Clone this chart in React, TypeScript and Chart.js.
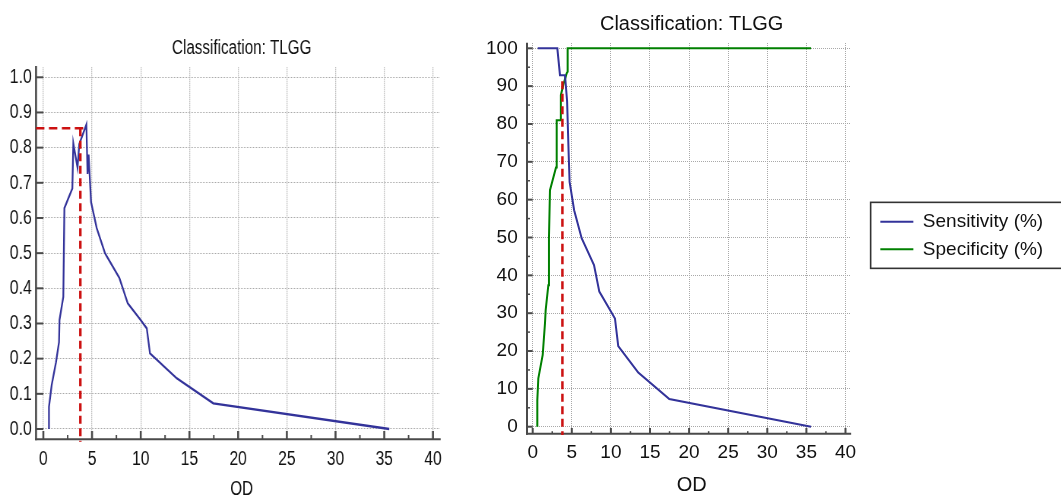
import React, { useEffect, useRef } from "react";
import { Chart, registerables } from "chart.js";

Chart.register(...registerables);

// ---------------- data ----------------
const chartTitle = "Classification: TLGG";
const axisTitle = "OD";
const legendSens = "Sensitivity (%)";
const legendSpec = "Specificity (%)";

const xTickValues = [0, 5, 10, 15, 20, 25, 30, 35, 40];
const youdenTickValues = [0, 0.1, 0.2, 0.3, 0.4, 0.5, 0.6, 0.7, 0.8, 0.9, 1.0];
const percentTickValues = [0, 10, 20, 30, 40, 50, 60, 70, 80, 90, 100];

// Youden index (left panel)
const youdenOD = [0.58, 0.58, 0.86, 1.3, 1.61, 1.66, 2.05, 2.16, 2.98, 3.08, 3.51, 3.69, 4.42, 4.54, 4.65, 4.9, 5.48, 6.33, 7.8, 8.67, 9.93, 10.62, 10.95, 13.7, 17.45, 35.52];
const youdenJ = [0, 0.063, 0.125, 0.19, 0.247, 0.31, 0.376, 0.628, 0.684, 0.812, 0.743, 0.81, 0.866, 0.725, 0.78, 0.645, 0.571, 0.5, 0.43, 0.357, 0.312, 0.286, 0.215, 0.144, 0.073, 0];

// Sensitivity (right panel)
const sensOD = [0.64, 3.15, 3.49, 4.13, 4.4, 4.6, 4.72, 5.3, 6.26, 7.84, 8.52, 9.8, 10.52, 10.94, 13.5, 17.47, 35.6];
const sensPct = [100, 100, 92.9, 92.9, 86, 72, 64.7, 57.2, 49.8, 42.7, 35.7, 31.2, 28.6, 21.3, 14.3, 7.3, 0];

// Specificity (right panel)
const specOD = [0.59, 0.59, 0.72, 1.28, 1.57, 1.66, 2.0, 2.08, 2.21, 2.98, 3.07, 3.55, 3.6, 3.91, 4.35, 4.47, 4.47, 35.6];
const specPct = [0, 7, 12.8, 19, 27.3, 30.8, 37.4, 49.8, 62.5, 68.5, 81, 81, 87.6, 90.3, 93.4, 93.8, 100, 100];

// criterion (red dashed markers)
const criterionOD = 3.8;
const youdenAtCriterion = 0.855;
const youdenLineEndOD = 4.19;
const youdenLineStartOD = -0.75;
const youdenLineBottom = -0.036;
const pctLineTop = 91.3;
const pctLineBottom = -2.2;

// ---------------- styles ----------------
const FONT = "'Liberation Sans', Arial, Helvetica, sans-serif";
const TEXT = "#111111";
const BLUE = "#33339a";
const GREEN = "#008000";
const RED = "#cc1111";
const AXIS = "#4a4a4a";
const GRID = "#a9a9a9";
const SQUEEZE = 0.76;

type AxisCfg = {
  gapX: number; gapY: number; vAxisW: number; hAxisW: number; topExtra: number; rightExtra: number;
  majorHW: number; majorVW: number; minorHW: number; minorVW: number; minorXLen: number; minorYLen: number;
  xTicks: number[]; yTicks: number[];
};

function midpoints(a: number[]) {
  const r: number[] = [];
  for (let i = 0; i < a.length - 1; i++) r.push((a[i] + a[i + 1]) / 2);
  return r;
}

function axisFramePlugin(c: AxisCfg) {
  return {
    id: "axisFrame",
    beforeDatasetsDraw(chart: any) {
      const { ctx, chartArea: a } = chart;
      const xs = chart.scales.x;
      const ys = chart.scales.y;
      const ax = a.left - c.gapX;
      const ay = a.bottom + c.gapY;
      ctx.save();
      ctx.strokeStyle = AXIS;
      ctx.lineCap = "butt";
      ctx.setLineDash([]);
      const seg = (x1: number, y1: number, x2: number, y2: number, w: number) => {
        ctx.lineWidth = w;
        ctx.beginPath();
        ctx.moveTo(x1, y1);
        ctx.lineTo(x2, y2);
        ctx.stroke();
      };
      seg(ax, a.top - c.topExtra, ax, ay + c.hAxisW / 2, c.vAxisW);
      seg(ax - c.vAxisW / 2, ay, a.right + c.rightExtra, ay, c.hAxisW);
      c.yTicks.forEach((v) => {
        const p = ys.getPixelForValue(v);
        seg(ax, p, a.left, p, c.majorHW);
      });
      if (c.minorYLen > 0)
        midpoints(c.yTicks).forEach((v) => {
          const p = ys.getPixelForValue(v);
          seg(ax, p, ax + c.minorYLen, p, c.minorHW);
        });
      c.xTicks.forEach((v) => {
        const p = xs.getPixelForValue(v);
        seg(p, a.bottom, p, ay, c.majorVW);
      });
      if (c.minorXLen > 0)
        midpoints(c.xTicks).forEach((v) => {
          const p = xs.getPixelForValue(v);
          seg(p, ay, p, ay - c.minorXLen, c.minorVW);
        });
      ctx.restore();
    },
  };
}

const legendFramePlugin = {
  id: "legendFrame",
  afterDraw(chart: any) {
    const hb = chart.legend && chart.legend.legendHitBoxes;
    if (!hb || !hb.length) return;
    const ctx = chart.ctx;
    const left = hb[0].left - 9.7;
    const top = hb[0].top - 9.8;
    const last = hb[hb.length - 1];
    const bottom = last.top + last.height + 9.5;
    ctx.save();
    ctx.strokeStyle = "#333333";
    ctx.lineWidth = 1.6;
    ctx.strokeRect(left, top, chart.width + 20 - left, bottom - top);
    ctx.restore();
  },
};

const pts = (xs: number[], ys: number[]) => xs.map((x, i) => ({ x, y: ys[i] }));
const setTicks = (vals: number[]) => (scale: any) => {
  scale.ticks = vals.map((v) => ({ value: v }));
};

function leftConfig(): any {
  return {
    type: "line",
    data: {
      datasets: [
        {
          label: "cutH",
          data: [
            { x: youdenLineStartOD, y: youdenAtCriterion },
            { x: youdenLineEndOD, y: youdenAtCriterion },
          ],
          borderColor: RED,
          borderWidth: 2.5,
          borderDash: [11, 6],
          pointRadius: 0,
          clip: false,
          order: 0,
        },
        {
          label: "cutV",
          data: [
            { x: criterionOD, y: youdenAtCriterion },
            { x: criterionOD, y: youdenLineBottom },
          ],
          borderColor: RED,
          borderWidth: 3.3,
          borderDash: [8, 4.5],
          pointRadius: 0,
          clip: false,
          order: 0,
        },
        {
          label: "Youden",
          data: pts(youdenOD, youdenJ),
          borderColor: BLUE,
          backgroundColor: BLUE,
          borderWidth: 2.3,
          pointRadius: 0,
          tension: 0,
          order: 1,
        },
      ],
    },
    options: {
      responsive: false,
      animation: false,
      devicePixelRatio: 1,
      events: [],
      layout: { padding: { left: 0, right: 39, top: 0, bottom: 0 } },
      plugins: {
        legend: { display: false },
        tooltip: { enabled: false },
        title: {
          display: true,
          text: chartTitle,
          fullSize: false,
          color: TEXT,
          font: { family: FONT, size: 20, weight: "normal" },
          padding: { top: 36.5, bottom: 6.8 },
        },
      },
      scales: {
        x: {
          type: "linear",
          min: 0,
          max: 40.73,
          afterBuildTicks: setTicks(xTickValues),
          afterFit: (s: any) => {
            s.height = 70;
          },
          grid: { color: GRID, lineWidth: 1.3, drawTicks: false },
          border: { display: false, dash: [1, 1] },
          ticks: {
            padding: 15.6,
            color: TEXT,
            font: { family: FONT, size: 20.5 },
            autoSkip: false,
            maxRotation: 0,
            callback: (v: any) => String(v),
          },
          title: {
            display: true,
            text: axisTitle,
            color: TEXT,
            font: { family: FONT, size: 20 },
            padding: { top: 0, bottom: 0 },
          },
        },
        y: {
          type: "linear",
          min: -0.0057,
          max: 1.0284,
          afterBuildTicks: setTicks(youdenTickValues),
          afterFit: (s: any) => {
            s.width = 57;
          },
          grid: { color: GRID, lineWidth: 1, drawTicks: false },
          border: { display: false, dash: [1, 1] },
          ticks: {
            padding: 15,
            color: TEXT,
            font: { family: FONT, size: 21 },
            autoSkip: false,
            callback: (v: any) => Number(v).toFixed(1),
          },
        },
      },
    },
    plugins: [
      axisFramePlugin({
        gapX: 9.6, gapY: 8.3, vAxisW: 2.6, hAxisW: 2, topExtra: 1.3, rightExtra: 0.8,
        majorHW: 2, majorVW: 2.6, minorHW: 1.5, minorVW: 2, minorXLen: 4.3, minorYLen: 0,
        xTicks: xTickValues, yTicks: youdenTickValues,
      }),
    ],
  };
}

function rightConfig(): any {
  return {
    type: "line",
    data: {
      datasets: [
        {
          label: legendSens,
          data: pts(sensOD, sensPct),
          borderColor: BLUE,
          backgroundColor: BLUE,
          borderWidth: 2,
          pointRadius: 0,
          tension: 0,
          order: 2,
        },
        {
          label: legendSpec,
          data: pts(specOD, specPct),
          borderColor: GREEN,
          backgroundColor: GREEN,
          borderWidth: 2,
          pointRadius: 0,
          tension: 0,
          order: 3,
        },
        {
          label: "",
          data: [
            { x: criterionOD, y: pctLineTop },
            { x: criterionOD, y: pctLineBottom },
          ],
          borderColor: RED,
          borderWidth: 2.5,
          borderDash: [8, 4.5],
          pointRadius: 0,
          clip: false,
          order: 1,
        },
      ],
    },
    options: {
      responsive: false,
      animation: false,
      devicePixelRatio: 1,
      events: [],
      layout: { padding: { left: 0, right: 46.8, top: 0, bottom: 0 } },
      plugins: {
        tooltip: { enabled: false },
        title: {
          display: true,
          text: chartTitle,
          fullSize: false,
          color: TEXT,
          font: { family: FONT, size: 20, weight: "normal" },
          padding: { top: 12.5, bottom: 6.5 },
        },
        legend: {
          display: true,
          position: "right",
          align: "center",
          fullSize: false,
          maxWidth: 260,
          labels: {
            boxWidth: 33,
            boxHeight: 2,
            padding: 8.7,
            color: TEXT,
            font: { family: FONT, size: 19 },
            filter: (it: any) => it.text !== "",
            generateLabels: (chart: any) =>
              (Chart.defaults as any).plugins.legend.labels
                .generateLabels(chart)
                .map((l: any) => ({ ...l, lineWidth: 0, fillStyle: l.strokeStyle })),
          },
        },
      },
      scales: {
        x: {
          type: "linear",
          min: 0,
          max: 40.66,
          afterBuildTicks: setTicks(xTickValues),
          afterFit: (s: any) => {
            s.height = 73;
          },
          grid: { color: GRID, lineWidth: 1, drawTicks: false },
          border: { display: false, dash: [1, 1] },
          ticks: {
            padding: 13.1,
            color: TEXT,
            font: { family: FONT, size: 19 },
            autoSkip: false,
            maxRotation: 0,
            callback: (v: any) => String(v),
          },
          title: {
            display: true,
            text: axisTitle,
            color: TEXT,
            font: { family: FONT, size: 20 },
            padding: { top: 0, bottom: 3.2 },
          },
        },
        y: {
          type: "linear",
          min: -0.34,
          max: 101.4,
          afterBuildTicks: setTicks(percentTickValues),
          afterFit: (s: any) => {
            s.width = 62.7;
          },
          grid: { color: GRID, lineWidth: 1, drawTicks: false },
          border: { display: false, dash: [1, 1] },
          ticks: {
            padding: 15,
            color: TEXT,
            font: { family: FONT, size: 19 },
            autoSkip: false,
            callback: (v: any) => String(v),
          },
        },
        gap: {
          type: "linear",
          position: "right",
          display: true,
          grid: { display: false, drawTicks: false },
          border: { display: false },
          ticks: { display: false },
          afterFit: (s: any) => {
            s.width = 21;
          },
        },
      },
    },
    plugins: [
      axisFramePlugin({
        gapX: 5.7, gapY: 5.7, vAxisW: 2, hAxisW: 2, topExtra: 0.3, rightExtra: 0.5,
        majorHW: 2, majorVW: 2, minorHW: 1.5, minorVW: 1.5, minorXLen: 2.5, minorYLen: 3,
        xTicks: xTickValues, yTicks: percentTickValues,
      }),
      legendFramePlugin,
    ],
  };
}

export default function App() {
  const leftRef = useRef<HTMLCanvasElement>(null);
  const rightRef = useRef<HTMLCanvasElement>(null);

  useEffect(() => {
    const c1 = new Chart(leftRef.current as HTMLCanvasElement, leftConfig());
    const c2 = new Chart(rightRef.current as HTMLCanvasElement, rightConfig());
    return () => {
      c1.destroy();
      c2.destroy();
    };
  }, []);

  return (
    <div
      style={{
        position: "fixed",
        left: 0,
        top: 0,
        width: 1061,
        height: 501,
        overflow: "hidden",
        background: "#ffffff",
      }}
    >
      <canvas
        ref={leftRef}
        width={618}
        height={501}
        style={{
          position: "absolute",
          left: 0,
          top: 0,
          width: 618,
          height: 501,
          transform: `scaleX(${SQUEEZE})`,
          transformOrigin: "0 0",
        }}
      />
      <canvas
        ref={rightRef}
        width={630}
        height={501}
        style={{ position: "absolute", left: 470, top: 0, width: 630, height: 501 }}
      />
    </div>
  );
}
